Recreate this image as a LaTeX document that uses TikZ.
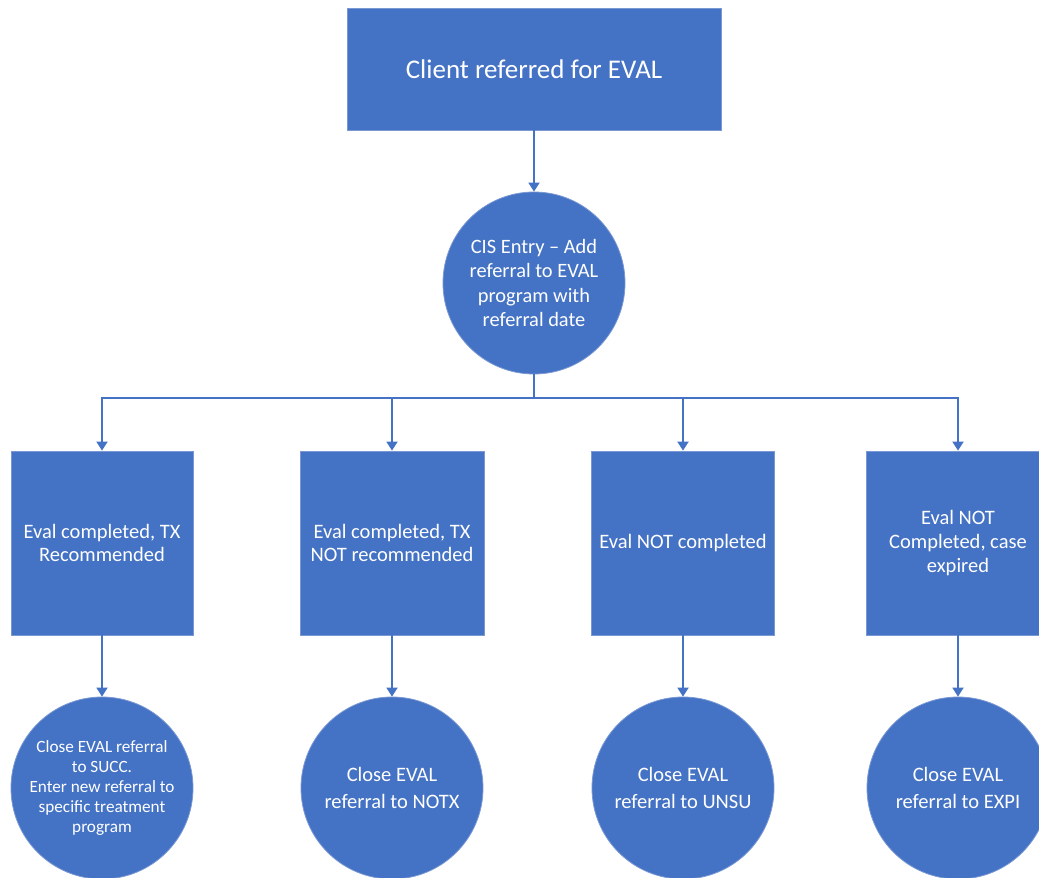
\documentclass[tikz,border=0pt]{standalone}
\usepackage{fontspec}
\setmainfont{Carlito}
\usetikzlibrary{arrows.meta}
\definecolor{oblue}{HTML}{4472C4}
\definecolor{oedge}{HTML}{7A98D4}
\tikzset{
  boxshape/.style={rectangle, fill=oblue, draw=oedge, line width=0.8pt, text=white, align=center, inner sep=0pt},
  circshape/.style={circle, fill=oblue, draw=oedge, line width=0.8pt, text=white, align=center, inner sep=0pt, minimum size=182pt},
  conn/.style={draw=oblue, line width=1.8pt},
  arr/.style={conn, -{Triangle[width=11pt,length=9pt]}}
}
\begin{document}
\begin{tikzpicture}[x=1pt,y=-1pt]
\clip (0,0) rectangle (1039,878);
\fill[white] (0,0) rectangle (1039,878);

\node[boxshape, minimum width=374pt, minimum height=122pt, font=\fontsize{27}{32}\selectfont] (top) at (534,69) {Client referred for EVAL};

\node[circshape, font=\fontsize{20.4}{24.5}\selectfont] (cis) at (534,283) {CIS Entry – Add\\referral to EVAL\\program with\\referral date};

\coordinate (bus) at (534,398);

\node[boxshape, minimum width=182pt, minimum height=184pt, font=\fontsize{20.5}{23.5}\selectfont] (b1) at (102,543) {Eval completed, TX\\Recommended};
\node[boxshape, minimum width=184pt, minimum height=184pt, font=\fontsize{20.5}{23.5}\selectfont] (b2) at (392,543) {Eval completed, TX\\NOT recommended};
\node[boxshape, minimum width=183pt, minimum height=184pt, font=\fontsize{20.5}{23.5}\selectfont] (b3) at (683,543) {Eval NOT completed};
\node[boxshape, minimum width=183pt, minimum height=184pt, font=\fontsize{20.5}{24}\selectfont] (b4) at (958,543) {Eval NOT\\Completed, case\\expired};

\node[circshape, font=\fontsize{17.2}{20.2}\selectfont] (c1) at (102,788) {Close EVAL referral\\to SUCC.\\Enter new referral to\\specific treatment\\program};
\node[circshape, font=\fontsize{20.5}{26.5}\selectfont] (c2) at (392,788) {Close EVAL\\referral to NOTX};
\node[circshape, font=\fontsize{20.5}{26.5}\selectfont] (c3) at (683,788) {Close EVAL\\referral to UNSU};
\node[circshape, font=\fontsize{20.5}{26.5}\selectfont] (c4) at (958,788) {Close EVAL\\referral to EXPI};

\draw[arr] (top.south) -- (cis.north);
\draw[conn] (cis.south) -- (bus);
\draw[arr] (bus) -| (b1.north);
\draw[arr] (bus) -| (b2.north);
\draw[arr] (bus) -| (b3.north);
\draw[arr] (bus) -| (b4.north);
\draw[arr] (b1.south) -- (c1.north);
\draw[arr] (b2.south) -- (c2.north);
\draw[arr] (b3.south) -- (c3.north);
\draw[arr] (b4.south) -- (c4.north);
\end{tikzpicture}
\end{document}
